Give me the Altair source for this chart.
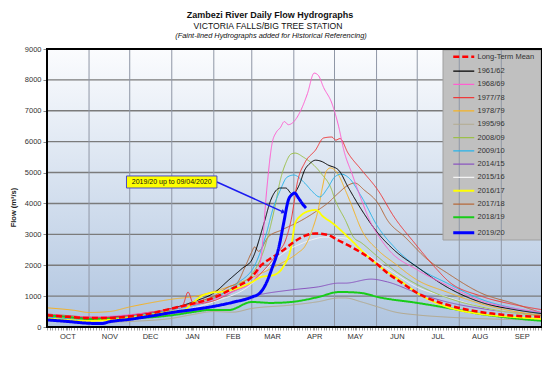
import altair as alt
import pandas as pd

FONT = "Liberation Sans"
W, H = 495, 278

# ---------------- data (day of hydrological year from 1 Oct, flow m3/s) ----------------
series_names = ["Long-Term Mean", "1961/62", "1968/69", "1977/78", "1978/79", "1995/96",
                "2008/09", "2009/10", "2014/15", "2015/16", "2016/17", "2017/18", "2018/19", "2019/20"]
series_colors = ["#ff0000", "#000000", "#ff5fd0", "#ee3a3a", "#f5b325", "#b3aa8f", "#9cc04a",
                 "#27b4ea", "#8a55bf", "#f4f4f4", "#ffff00", "#b5693a", "#18cc18", "#0000ff"]
series_dash = [[6, 3]] + [[1, 0]] * 13
series_width = [2.5, 1, 1, 1, 1, 1, 1, 1, 1, 1, 1.8, 1, 2, 3]

mean_day = [0, 15, 31, 46, 61, 76, 92, 107, 123, 137, 151, 158, 166, 173, 182, 190, 198, 207, 215, 224, 232, 243, 251, 262, 273, 284, 295, 310, 325, 340, 365]
mean_flow = [380, 330, 290, 290, 340, 430, 600, 750, 950, 1250, 1620, 2000, 2250, 2450, 2750, 2950, 3030, 2980, 2800, 2600, 2400, 2050, 1750, 1420, 1100, 880, 720, 560, 450, 380, 330]

y61_day = [0, 31, 61, 92, 110, 123, 134, 144, 151, 160, 165, 168, 172, 176, 181, 186, 190, 194, 198, 203, 207, 215, 222, 232, 244, 256, 273, 295, 320, 345, 365]
y61_flow = [400, 300, 380, 600, 850, 1100, 1520, 1900, 2170, 3360, 4110, 4370, 4500, 4500, 4300, 4600, 5080, 5300, 5400, 5350, 5250, 5080, 4530, 3790, 3040, 2490, 1940, 1290, 800, 560, 430]

y68_day = [0, 31, 61, 92, 123, 140, 151, 155, 158, 162, 166, 169, 172, 175, 178, 183, 187, 192, 197, 200, 204, 210, 215, 219, 225, 232, 239, 244, 252, 273, 295, 320, 345, 365]
y68_flow = [420, 320, 400, 580, 900, 1200, 1450, 1700, 2300, 4430, 5950, 6300, 6450, 6650, 6550, 6700, 7000, 7550, 8220, 8150, 7750, 7250, 6500, 5700, 4950, 4100, 3350, 2980, 2500, 1850, 1350, 850, 600, 480]

y77_day = [0, 15, 31, 46, 61, 76, 92, 100, 104, 108, 123, 137, 151, 158, 165, 170, 176, 180, 185, 190, 198, 204, 210, 213, 216, 222, 232, 244, 256, 271, 288, 295, 320, 345, 365]
y77_flow = [420, 370, 320, 310, 380, 480, 600, 700, 1130, 750, 850, 1150, 1450, 1750, 2100, 2400, 2820, 3460, 4760, 5310, 5730, 6120, 6150, 6050, 6100, 5630, 5080, 4430, 3560, 2720, 1840, 1520, 1000, 720, 560]

y78_day = [0, 20, 31, 46, 61, 76, 92, 110, 123, 137, 151, 170, 185, 190, 196, 200, 203, 206, 209, 215, 220, 224, 232, 244, 256, 273, 295, 320, 345, 365]
y78_flow = [620, 540, 470, 500, 650, 780, 900, 1000, 1150, 1350, 1600, 2000, 2400, 2600, 3200, 3800, 4500, 5050, 5150, 4920, 4430, 4010, 3140, 2490, 2070, 1520, 1130, 750, 500, 380]

y95_day = [0, 31, 61, 92, 107, 123, 137, 151, 180, 200, 215, 220, 232, 244, 256, 273, 295, 320, 345, 365]
y95_flow = [200, 140, 180, 280, 400, 500, 480, 600, 710, 820, 940, 940, 810, 650, 490, 390, 320, 270, 240, 220]

y08_day = [0, 31, 61, 92, 123, 140, 151, 160, 165, 168, 172, 176, 180, 183, 189, 195, 202, 210, 212, 220, 226, 232, 244, 256, 281, 295, 320, 345, 365]
y08_flow = [330, 250, 330, 560, 950, 1350, 1700, 2500, 3300, 3880, 4750, 5300, 5600, 5630, 5500, 5310, 4980, 4430, 4170, 3460, 2910, 2720, 2270, 1840, 1200, 950, 650, 450, 350]

y09_day = [0, 31, 61, 92, 123, 140, 154, 161, 167, 172, 177, 182, 190, 196, 201, 207, 212, 217, 222, 232, 244, 256, 273, 295, 320, 345, 365]
y09_flow = [320, 240, 330, 560, 920, 1400, 2070, 2910, 3880, 4430, 4850, 4920, 4660, 4370, 4210, 4500, 4850, 4950, 4850, 4210, 3240, 2590, 1940, 1420, 900, 600, 450]

y14_day = [0, 31, 61, 92, 123, 140, 156, 180, 200, 215, 220, 239, 251, 273, 295, 320, 345, 365]
y14_flow = [260, 200, 290, 430, 650, 850, 1040, 1200, 1300, 1420, 1420, 1550, 1460, 1100, 810, 600, 460, 380]

y15_day = [0, 31, 61, 92, 123, 151, 160, 168, 178, 185, 195, 205, 210, 220, 232, 244, 256, 273, 295, 320, 345, 365]
y15_flow = [320, 230, 310, 460, 820, 1400, 1800, 2170, 2500, 2650, 2820, 2910, 2910, 2880, 2490, 2100, 1750, 1290, 970, 650, 450, 330]

y16_day = [0, 31, 61, 92, 101, 108, 114, 120, 130, 140, 151, 158, 167, 174, 180, 183, 187, 191, 198, 204, 210, 222, 234, 246, 259, 273, 295, 320, 345, 365]
y16_flow = [280, 200, 300, 500, 550, 800, 1000, 1100, 1150, 1250, 1450, 1620, 1680, 1940, 2590, 3360, 3600, 3720, 3790, 3560, 3380, 2910, 2390, 1940, 1550, 1100, 650, 420, 320, 260]

y17_day = [0, 31, 61, 92, 110, 123, 134, 140, 146, 151, 153, 156, 163, 173, 188, 200, 207, 215, 222, 227, 234, 244, 251, 264, 281, 295, 320, 345, 365]
y17_flow = [370, 290, 380, 600, 800, 1000, 1300, 1420, 1940, 2430, 2590, 2450, 2910, 3140, 3460, 3790, 4010, 4340, 4590, 4660, 4430, 4010, 3460, 2910, 2170, 1750, 1100, 750, 450]

y18_day = [0, 15, 31, 61, 92, 110, 119, 134, 151, 165, 180, 200, 215, 220, 232, 244, 273, 295, 320, 345, 365]
y18_flow = [380, 330, 260, 280, 380, 500, 550, 550, 810, 780, 810, 970, 1130, 1130, 1100, 970, 780, 620, 420, 280, 200]

y19_day = [0, 15, 31, 40, 46, 61, 76, 92, 107, 123, 137, 151, 157, 161, 166, 171, 174.5, 178, 181, 182.5, 185.5, 189, 191]
y19_flow = [230, 180, 120, 110, 170, 250, 350, 470, 560, 670, 800, 970, 1100, 1360, 1910, 2590, 3360, 4110, 4300, 4340, 4170, 3950, 3850]

# draw order: faint historic lines first, current season last
draw_order = [
    ("1995/96", y95_day, y95_flow), ("2014/15", y14_day, y14_flow), ("2015/16", y15_day, y15_flow),
    ("1978/79", y78_day, y78_flow), ("2017/18", y17_day, y17_flow), ("2008/09", y08_day, y08_flow),
    ("2009/10", y09_day, y09_flow), ("1961/62", y61_day, y61_flow), ("1977/78", y77_day, y77_flow),
    ("1968/69", y68_day, y68_flow), ("2018/19", y18_day, y18_flow), ("2016/17", y16_day, y16_flow),
    ("Long-Term Mean", mean_day, mean_flow), ("2019/20", y19_day, y19_flow),
]

month_starts = [0, 31, 61, 92, 123, 151, 182, 212, 243, 273, 304, 335, 365]
month_mids = [15, 46, 76, 107, 137, 166, 197, 227, 258, 288, 319, 350]
month_names = ["OCT", "NOV", "DEC", "JAN", "FEB", "MAR", "APR", "MAY", "JUN", "JUL", "AUG", "SEP"]
y_ticks = [0, 1000, 2000, 3000, 4000, 5000, 6000, 7000, 8000, 9000]

# annotation (data units)
ann_text = "2019/20 up to 09/04/2020"
ann_box_x = [58.6, 125.3]
ann_box_y = [4500, 4890]
ann_arrow_from = [125.3, 4695]
ann_arrow_to = [174.4, 3720]

# ---------------- build tables ----------------
rows = []
for name, days, flows in draw_order:
    w = series_width[series_names.index(name)]
    for d, f in zip(days, flows):
        rows.append({"series": name, "day": d, "flow": f, "w": w})
df = pd.DataFrame(rows)

xscale = alt.Scale(domain=[0, 365], nice=False, zero=False)
yscale = alt.Scale(domain=[0, 9000], nice=False, zero=True)

x_axis = alt.Axis(
    values=sorted(set(range(0, 366, 2)) | set(month_mids)),
    labelExpr="indexof(%s, datum.value) >= 0 ? %s[indexof(%s, datum.value)] : ''"
    % (month_mids, [m for m in month_names], month_mids),
    tickSize=3, tickColor="#8a8a8a", tickWidth=0.8, grid=False, domain=False, title=None,
    labelOverlap=False, labelFlush=False, labelPadding=2, labelFontSize=7.5,
    labelColor="#333333", labelFont=FONT,
)
y_axis = alt.Axis(
    values=y_ticks, format="d", tickSize=4, tickColor="#888888", grid=False, domain=False,
    title="Flow (m³/s)", titleFontSize=7.5, titleFont=FONT, titleFontWeight="bold",
    titleColor="#222222", titleAngle=270, titleX=-34, titleY=158, titleAlign="center",
    titleBaseline="middle", labelFontSize=7.5, labelColor="#333333", labelFont=FONT, labelPadding=2,
)


def X(field):
    return alt.X(field, scale=xscale, axis=x_axis)


def Y(field):
    return alt.Y(field, scale=yscale, axis=y_axis)


bg = alt.Chart(pd.DataFrame({"a": [0]})).mark_rect(
    color=alt.Gradient(
        gradient="linear",
        stops=[alt.GradientStop(color="#fbfcfe", offset=0), alt.GradientStop(color="#b0c5e0", offset=1)],
        x1=0, x2=0, y1=0, y2=1,
    )
).encode(x=alt.value(0), x2=alt.value(W), y=alt.value(0), y2=alt.value(H))

vgrid = alt.Chart(pd.DataFrame({"day": month_starts[1:-1]})).mark_rule(
    color="#8f97a6", strokeWidth=1
).encode(x=X("day:Q"))

hgrid = alt.Chart(pd.DataFrame({"flow": y_ticks[1:-1]})).mark_rule(
    color="#7b7b7b", strokeWidth=1.4
).encode(y=Y("flow:Q"))

# grey legend panel (drawn under the vertical grid lines, as in the original)
legend_panel = alt.Chart(pd.DataFrame({"a": [0]})).mark_rect(
    fill="#c0c0c0", stroke="#a0a0a0", strokeWidth=1
).encode(x=alt.value(396), x2=alt.value(494), y=alt.value(1), y2=alt.value(191))

legend = alt.Legend(
    title=None, orient="none", legendX=413, legendY=4, padding=0,
    symbolType="stroke", symbolSize=441, labelOffset=10,
    rowPadding=4.3, labelFontSize=7.5, labelFont=FONT, labelColor="#333333",
    symbolStrokeWidth=alt.ExprRef(
        expr="datum.value == '2019/20' ? 3 : datum.value == 'Long-Term Mean' ? 2.5 : "
             "datum.value == '2018/19' ? 2 : datum.value == '2016/17' ? 1.8 : 1.2"
    ),
)

lines = alt.Chart(df).mark_line(interpolate="monotone").encode(
    x=X("day:Q"),
    y=Y("flow:Q"),
    color=alt.Color("series:N", scale=alt.Scale(domain=series_names, range=series_colors), legend=legend),
    strokeDash=alt.StrokeDash("series:N", scale=alt.Scale(domain=series_names, range=series_dash), legend=legend),
    strokeWidth=alt.StrokeWidth("w:Q", scale=None, legend=None),
)

ann_df = pd.DataFrame({
    "x0": [ann_box_x[0]], "x1": [ann_box_x[1]], "y0": [ann_box_y[0]], "y1": [ann_box_y[1]],
    "xc": [(ann_box_x[0] + ann_box_x[1]) / 2], "yc": [(ann_box_y[0] + ann_box_y[1]) / 2],
    "ax0": [ann_arrow_from[0]], "ay0": [ann_arrow_from[1]],
    "ax1": [ann_arrow_to[0]], "ay1": [ann_arrow_to[1]], "t": [ann_text],
})
arrow = alt.Chart(ann_df).mark_rule(color="#1c1cf0", strokeWidth=1.5).encode(
    x=X("ax0:Q"), x2="ax1:Q", y=Y("ay0:Q"), y2="ay1:Q",
)
arrow_head = alt.Chart(ann_df).mark_point(
    shape="triangle-right", angle=24, filled=True, color="#1c1cf0", size=22, opacity=1
).encode(x=X("ax1:Q"), y=Y("ay1:Q"))
box = alt.Chart(ann_df).mark_rect(fill="#ffff00", stroke="#4a4ac8", strokeWidth=1).encode(
    x=X("x0:Q"), x2="x1:Q", y=Y("y0:Q"), y2="y1:Q",
)
box_text = alt.Chart(ann_df).mark_text(font=FONT, fontSize=7, color="#111111").encode(
    x=X("xc:Q"), y=Y("yc:Q"), text="t:N"
)

title_df = pd.DataFrame({
    "t": ["Zambezi River Daily Flow Hydrographs", "VICTORIA FALLS/BIG TREE STATION",
          "(Faint-lined Hydrographs added for Historical Referencing)"],
})
t1 = alt.Chart(title_df.iloc[[0]]).mark_text(font=FONT, fontSize=9, fontWeight="bold", color="#111").encode(
    x=alt.value(223), y=alt.value(-34), text="t:N")
t2 = alt.Chart(title_df.iloc[[1]]).mark_text(font=FONT, fontSize=8.6, color="#111").encode(
    x=alt.value(221), y=alt.value(-23), text="t:N")
t3 = alt.Chart(title_df.iloc[[2]]).mark_text(font=FONT, fontSize=7.4, fontStyle="italic", color="#111").encode(
    x=alt.value(224), y=alt.value(-13), text="t:N")

frame = alt.Chart(pd.DataFrame({"a": [0]})).mark_rect(
    fillOpacity=0, stroke="#000000", strokeWidth=2
).encode(x=alt.value(0), x2=alt.value(W), y=alt.value(0), y2=alt.value(H))

chart = alt.layer(bg, hgrid, legend_panel, vgrid, lines, arrow, arrow_head, box, box_text,
                  t1, t2, t3, frame).properties(
    width=W, height=H,
    padding={"left": 39, "top": 41, "right": 0, "bottom": 25},
    autosize=alt.AutoSizeParams(type="none"),
).configure_view(stroke=None).configure(background="#ffffff")

chart.save("out.html", embed_options={"renderer": "svg", "actions": False})
